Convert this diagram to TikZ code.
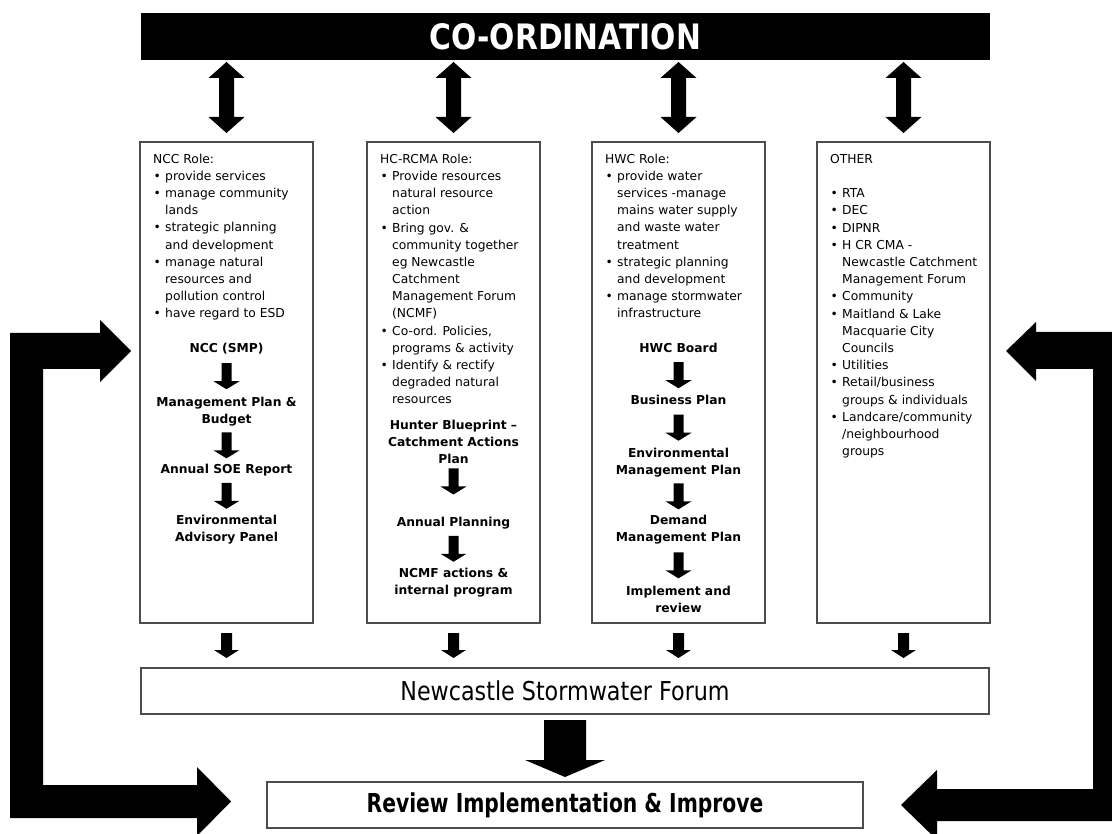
\documentclass[tikz,border=0pt]{standalone}
\usepackage{fontspec}
\setmainfont{DejaVu Sans}
\usepackage{graphicx}
\usetikzlibrary{calc}

\newcommand{\rolefont}{\fontsize{12.3}{17.2}\selectfont}
\newcommand{\stepfont}{\fontsize{12.3}{17.2}\selectfont\bfseries}
\newcommand{\bl}{\makebox[12pt][l]{\hspace{0.5pt}\textbullet}}
\newcommand{\ind}{\hspace*{12pt}}
\newcommand{\ts}{\rule{0pt}{10pt}}
\newcommand{\bs}{\rule[-3.5pt]{0pt}{3.5pt}}

% block arrow pointing down, from point #1 to point #2
\newcommand{\blkdown}[5]{\fill let \p1=(#1), \p2=(#2) in
  (\x1-#3,\y1) -- (\x1+#3,\y1) -- (\x1+#3,\y2+#5) -- (\x1+#4,\y2+#5) -- (\x1,\y2)
  -- (\x1-#4,\y2+#5) -- (\x1-#3,\y2+#5) -- cycle;}
% double headed block arrow from #1 (top) to #2 (bottom)
\newcommand{\blkdouble}[5]{\fill let \p1=(#1), \p2=(#2) in
  (\x1,\y1) -- (\x1+#4,\y1-#5) -- (\x1+#3,\y1-#5) -- (\x1+#3,\y2+#5) -- (\x1+#4,\y2+#5)
  -- (\x1,\y2) -- (\x1-#4,\y2+#5) -- (\x1-#3,\y2+#5) -- (\x1-#3,\y1-#5) -- (\x1-#4,\y1-#5) -- cycle;}
% small block arrow centred between node #1 and node #2
\newcommand{\blkmid}[3]{\fill let \p1=($(#1.south)!0.5!(#2.north)+(0,#3)$) in
  (\x1-5pt,\y1+13pt) -- (\x1+5pt,\y1+13pt) -- (\x1+5pt,\y1-5pt) -- (\x1+13pt,\y1-5pt)
  -- (\x1,\y1-13pt) -- (\x1-13pt,\y1-5pt) -- (\x1-5pt,\y1-5pt) -- cycle;}

\tikzset{
  colbox/.style={draw=black!70, line width=1.2pt, fill=white, minimum width=173pt,
    minimum height=481pt, anchor=north west, inner sep=0pt, outer sep=0pt},
  flowbox/.style={draw=black!70, line width=1.2pt, fill=white, inner sep=0pt, outer sep=0pt},
  role/.style={anchor=north west, align=left, inner sep=0pt, font=\rolefont},
  stepnode/.style={anchor=north, align=center, inner sep=0pt, outer sep=0pt, font=\stepfont},
}

\begin{document}
\begin{tikzpicture}[x=1pt,y=-1pt]
\useasboundingbox (0,0) rectangle (1112,834);
\clip (0,0) rectangle (1112,834);
\fill[white] (0,0) rectangle (1112,834);

% co-ordination bar
\node[fill=black, minimum width=849pt, minimum height=47pt, inner sep=0pt, outer sep=0pt,
  text=white, font=\fontsize{35}{40}\selectfont\bfseries] (coord) at (565.5,36.5)
  {\scalebox{0.85}[1]{CO-ORDINATION}};

% column boxes
\node[colbox] (ncc) at (140,142) {};
\node[colbox] (hcr) at (367,142) {};
\node[colbox] (hwc) at (592,142) {};
\node[colbox] (oth) at (817,142) {};

% double arrows
\foreach \b in {ncc,hcr,hwc,oth}{
  \blkdouble{$(coord.south -| \b.north)+(0,2)$}{$(\b.north)+(0,-9)$}{7.5pt}{18pt}{16pt}
}

% role texts
\node[role] (nccrole) at (153,153) {\ts NCC Role:\\
\bl provide services\\
\bl manage community\\
\ind lands\\
\bl strategic planning\\
\ind and development\\
\bl manage natural\\
\ind resources and\\
\ind pollution control\\
\bl have regard to ESD};

\node[role] (hcrrole) at (380,153) {\ts HC-RCMA Role:\\
\bl Provide resources\\
\ind natural resource\\
\ind action\\
\bl Bring gov. \&\\
\ind community together\\
\ind eg Newcastle\\
\ind Catchment\\
\ind Management Forum\\
\ind (NCMF)\\
\bl Co-ord. Policies,\\
\ind programs \& activity\\
\bl Identify \& rectify\\
\ind degraded natural\\
\ind resources};

\node[role] (hwcrole) at (605,153) {\ts HWC Role:\\
\bl provide water\\
\ind services -manage\\
\ind mains water supply\\
\ind and waste water\\
\ind treatment\\
\bl strategic planning\\
\ind and development\\
\bl manage stormwater\\
\ind infrastructure};

\node[role] (othrole) at (830,153) {\ts OTHER\\[17.2pt]
\bl RTA\\
\bl DEC\\
\bl DIPNR\\
\bl H CR CMA -\\
\ind Newcastle Catchment\\
\ind Management Forum\\
\bl Community\\
\bl Maitland \& Lake\\
\ind Macquarie City\\
\ind Councils\\
\bl Utilities\\
\bl Retail/business\\
\ind groups \& individuals\\
\bl Landcare/community\\
\ind /neighbourhood\\
\ind groups};

% column 1 steps
\node[stepnode] (s11) at (226.5,342.5) {\ts NCC (SMP)\bs};
\node[stepnode] (s12) at (226.5,396.5) {\ts Management Plan \&\\Budget\bs};
\node[stepnode] (s13) at (226.5,463.5) {\ts Annual SOE Report\bs};
\node[stepnode] (s14) at (226.5,514.5) {\ts Environmental\\Advisory Panel\bs};
\blkmid{s11}{s12}{0}
\blkmid{s12}{s13}{0}
\blkmid{s13}{s14}{0}

% column 2 steps
\node[stepnode] (s21) at (453.5,419.5) {\ts Hunter Blueprint –\\Catchment Actions\\Plan\bs};
\node[stepnode] (s22) at (453.5,516.5) {\ts Annual Planning\bs};
\node[stepnode] (s23) at (453.5,567.5) {\ts NCMF actions \&\\internal program\bs};
\blkmid{s21}{s22}{-10.5}
\blkmid{s22}{s23}{0}

% column 3 steps
\node[stepnode] (s31) at (678.5,342.5) {\ts HWC Board\bs};
\node[stepnode] (s32) at (678.5,394.5) {\ts Business Plan\bs};
\node[stepnode] (s33) at (678.5,447.5) {\ts Environmental\\Management Plan\bs};
\node[stepnode] (s34) at (678.5,514.5) {\ts Demand\\Management Plan\bs};
\node[stepnode] (s35) at (678.5,585.5) {\ts Implement and\\review\bs};
\blkmid{s31}{s32}{0}
\blkmid{s32}{s33}{0}
\blkmid{s33}{s34}{0}
\blkmid{s34}{s35}{0}

% forum boxes
\node[flowbox, minimum width=848pt, minimum height=46pt, font=\fontsize{26}{30}\selectfont]
  (nsf) at (565,691) {\scalebox{0.855}[1]{Newcastle Stormwater Forum}};
\node[flowbox, minimum width=596pt, minimum height=46pt, font=\fontsize{26}{30}\selectfont\bfseries]
  (rev) at (565,805) {\scalebox{0.78}[1]{Review Implementation \& Improve}};

% arrows from columns to forum
\foreach \b in {ncc,hcr,hwc,oth}{
  \blkdown{$(\b.south)+(0,10)$}{$(nsf.north -| \b.south)+(0,-10)$}{5.5pt}{12.5pt}{8pt}
}
% forum to review
\blkdown{$(nsf.south)+(0,6)$}{$(rev.north)+(0,-5)$}{21pt}{40pt}{17pt}

% feedback loops
\fill (10,333) -- (100,333) -- (100,320) -- (131,351) -- (100,382) -- (100,369)
  -- (43,369) -- (43,785) -- (197,785) -- (197,767) -- (231,801.5) -- (197,836)
  -- (197,818) -- (10,818) -- cycle;
\fill (1130,332) -- (1036,332) -- (1036,322) -- (1006,351) -- (1036,381) -- (1036,369)
  -- (1093,369) -- (1093,789) -- (937,789) -- (937,770) -- (901,805) -- (937,840)
  -- (937,821) -- (1130,821) -- cycle;
\end{tikzpicture}
\end{document}
